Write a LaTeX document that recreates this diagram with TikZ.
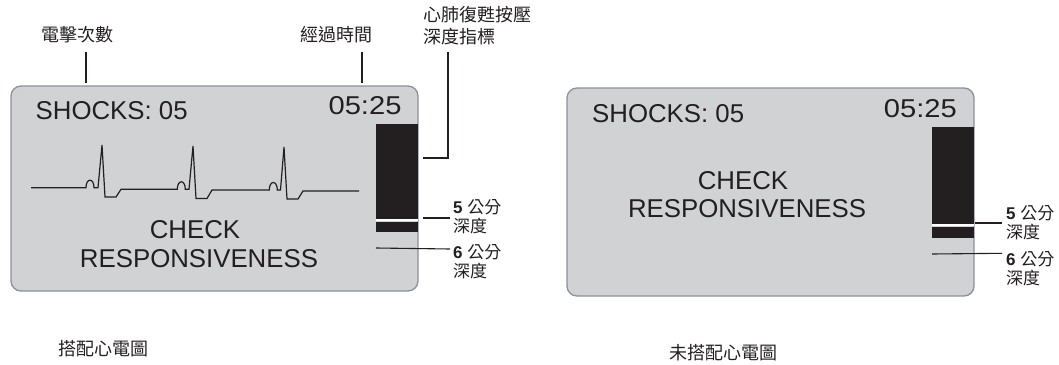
\documentclass[tikz,border=0pt]{standalone}
\usepackage{fontspec}
\setmainfont{Liberation Sans}
\newfontfamily\cjk{Noto Sans CJK TC}
\definecolor{scr}{HTML}{D1D2D4}
\definecolor{edge}{HTML}{8D8F9C}
\definecolor{ink}{HTML}{231F20}
\tikzset{
  screen/.style={draw=edge, fill=scr, line width=1.3pt, rounded corners=10pt},
  lead/.style={draw=ink, line width=1.5pt},
  thinlead/.style={draw=ink, line width=1.1pt},
  ecg/.style={draw=ink, line width=1.2pt, line join=miter},
  lbl/.style={font=\cjk\fontsize{18}{22}\selectfont, text=ink, inner sep=0pt, align=left},
  dlbl/.style={font=\cjk\fontsize{17}{19}\selectfont, text=ink, inner sep=0pt, align=left},
  big/.style={font=\fontsize{25.8}{28}\selectfont, text=ink, inner sep=0pt},
}
\newcommand{\dnum}[1]{{\fontspec{Liberation Sans}\bfseries #1}\hspace{1pt}}
\begin{document}
\begin{tikzpicture}[x=1pt,y=-1pt]
\useasboundingbox (0,0) rectangle (1059,364);

% ---------------- left panel ----------------
\draw[screen] (11,86) rectangle (418,291);
\fill[ink] (376,124) rectangle (418,219.3);
\fill[white] (376,219.3) rectangle (418,221.3);
\fill[ink] (376,221.6) rectangle (418,232.3);

\node[big, anchor=base west] (sh1) at (35.5,119) {SHOCKS: 05};
\node[big, anchor=base east] (tm1) at (401.7,114.3) {\scalebox{1.13}[1]{05:25}};
\node[big, anchor=base] (ck1) at (195,238) {CHECK};
\node[big, anchor=base] (rs1) at (199,267) {RESPONSIVENESS};

% ECG trace
\draw[ecg] (31,187.7) -- (86,187.7)
  .. controls (86,177.7) and (94,177.7) .. (94,187.7) -- (98,187.7)
  -- (102,145) -- (105,197) -- (116,197) -- (121,189.3) -- (177.3,189.3)
  .. controls (177.3,179.3) and (185.3,179.3) .. (185.3,189.3) -- (189,189.3)
  -- (193,146) -- (196,198.5) -- (207,198.5) -- (212,190) -- (269.3,190)
  .. controls (269.3,180) and (277.3,180) .. (277.3,190) -- (280.5,190)
  -- (284,147) -- (287,199) -- (298,199) -- (303,191) -- (359,191);

% labels
\node[lbl] (lshock) at (77,35) {電擊次數};
\node[lbl] (ltime) at (336,35) {經過時間};
\node[lbl, anchor=west] (lcpr) at (423,26) {心肺復甦按壓\\深度指標};
\node[dlbl, anchor=west] (l5a) at (453,216.5) {\dnum{5} 公分\\深度};
\node[dlbl, anchor=west] (l6a) at (453,262) {\dnum{6} 公分\\深度};

\coordinate (shA) at (86,52);  \coordinate (shB) at (86,83);
\coordinate (tmA) at (362,52); \coordinate (tmB) at (362,83);
\coordinate (cprA) at (423,158); \coordinate (cprB) at (448,52);
\coordinate (c5a) at (423,218); \coordinate (c5b) at (450,218);
\coordinate (c6a) at (376,248); \coordinate (c6b) at (450,249);
\draw[lead] (shA) -- (shB);
\draw[lead] (tmA) -- (tmB);
\draw[lead] (cprA) -| (cprB);
\draw[lead] (c5a) -- (c5b);
\draw[thinlead] (c6a) -- (c6b);

\node[lbl] (cap1) at (103,349) {搭配心電圖};

% ---------------- right panel ----------------
\draw[screen] (567,88) rectangle (974,296);
\fill[ink] (932,127) rectangle (974,224.2);
\fill[white] (932,224.2) rectangle (974,226.2);
\fill[ink] (932,226.6) rectangle (974,237.7);

\node[big, anchor=base west] (sh2) at (592,122) {SHOCKS: 05};
\node[big, anchor=base east] (tm2) at (957,117) {\scalebox{1.13}[1]{05:25}};
\node[big, anchor=base] (ck2) at (743,189) {CHECK};
\node[big, anchor=base] (rs2) at (747,217) {RESPONSIVENESS};

\node[dlbl, anchor=west] (l5b) at (1006,222.5) {\dnum{5} 公分\\深度};
\node[dlbl, anchor=west] (l6b) at (1006,268.5) {\dnum{6} 公分\\深度};
\coordinate (d5a) at (975,223); \coordinate (d5b) at (1002,223);
\coordinate (d6a) at (932,254); \coordinate (d6b) at (1002,253.3);
\draw[lead] (d5a) -- (d5b);
\draw[thinlead] (d6a) -- (d6b);

\node[lbl] (cap2) at (723,353) {未搭配心電圖};
\end{tikzpicture}
\end{document}
